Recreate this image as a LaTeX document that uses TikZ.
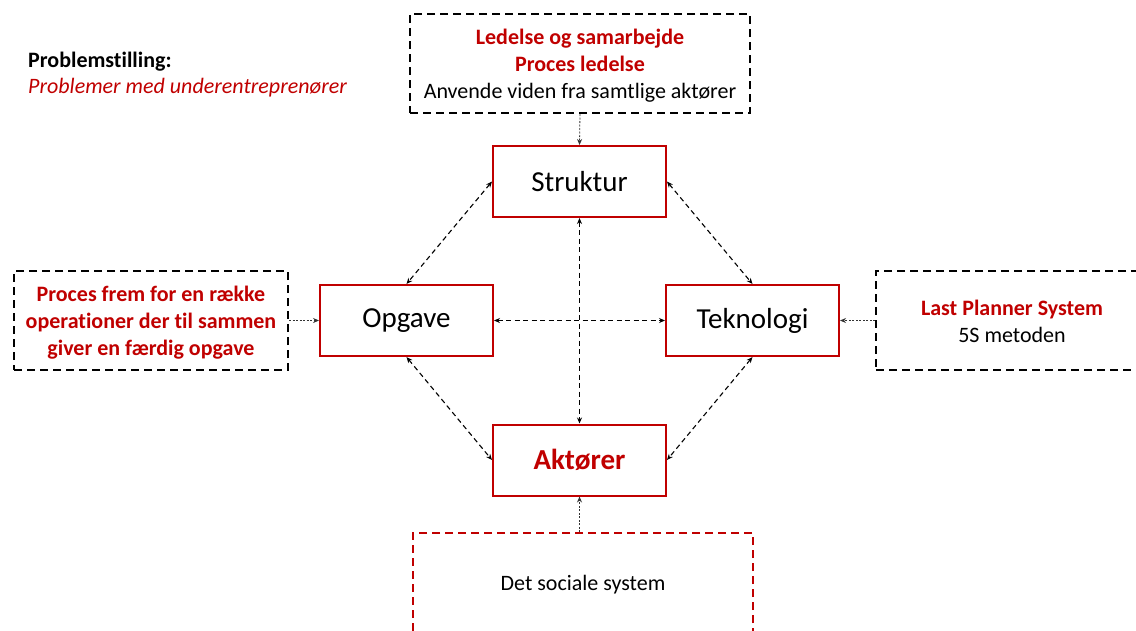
\documentclass[tikz,border=0pt]{standalone}
\usepackage{fontspec}
\setmainfont{Carlito}[Ligatures=NoCommon]
\usetikzlibrary{arrows.meta}
\definecolor{dkred}{HTML}{C00000}
\begin{document}
\begin{tikzpicture}[x=1pt,y=-1pt,
  core/.style={draw=dkred,line width=2pt,minimum width=173pt,minimum height=71pt,font=\fontsize{29}{34}\selectfont,inner sep=0pt},
  infobox/.style={draw=black,line width=2pt,dash pattern=on 8pt off 5pt,inner sep=0pt,align=center,font=\fontsize{22}{27}\selectfont},
  link/.style={line width=1.1pt,dash pattern=on 5pt off 3.5pt,{Stealth[length=6pt,width=5pt]}-{Stealth[length=6pt,width=5pt]}},
  feed/.style={line width=0.8pt,dash pattern=on 2pt off 1.5pt,draw=black!80,-{Stealth[length=6pt,width=5pt]}}]
\useasboundingbox (0,0) rectangle (1136,630);
\clip (0,0) rectangle (1136,630);

% problem statement
\node[anchor=base west,inner sep=0pt,font=\fontsize{22}{27}\selectfont\bfseries] (ps) at (28,67) {Problemstilling:};
\node[anchor=base west,inner sep=0pt,font=\fontsize{22}{27}\selectfont\itshape,text=dkred] (psr) at (28,93) {Problemer med underentreprenører};

% the four core elements
\node[core] (str) at (579.5,181.5) {Struktur};
\node[core] (opg) at (406.5,320.5) {Opgave};
\node[core] (tek) at (752.5,320.5) {Teknologi};
\node[core,text=dkred,font=\fontsize{29}{34}\selectfont\bfseries] (akt) at (579.5,460) {Aktører};

% surrounding explanation boxes
\node[infobox,minimum width=340pt,minimum height=99pt] (top) at (580,63.5) {};
\node[align=center,inner sep=0pt,font=\fontsize{22}{27}\selectfont] (toptxt) at (580,66)
  {{\color{dkred}\bfseries Ledelse og samarbejde}\\{\color{dkred}\bfseries Proces ledelse}\\Anvende viden fra samtlige aktører};
\node[infobox,minimum width=274pt,minimum height=99pt] (lft) at (151,320.5) {};
\node[align=center,inner sep=0pt,font=\fontsize{22}{27}\selectfont\bfseries,text=dkred] (lfttxt) at (151,323)
  {Proces frem for en række\\operationer der til sammen\\giver en færdig opgave};
\node[infobox,minimum width=290pt,minimum height=99pt] (rgt) at (1021,320.5) {};
\node[infobox,draw=dkred,minimum width=340pt,minimum height=140pt] (bot) at (583,603) {};
\node[align=center,inner sep=0pt,font=\fontsize{22}{27}\selectfont] (rgtxt) at (1012,321.5)
  {{\color{dkred}\bfseries Last Planner System}\\5S metoden};
\node[inner sep=0pt,font=\fontsize{22}{27}\selectfont,anchor=base] (bottxt) at (583,590) {Det sociale system};

% relations between the core elements
\draw[link] (str.south) -- (akt.north);
\draw[link] (opg.east) -- (tek.west);
\draw[link] (str.west) -- (opg.north);
\draw[link] (str.east) -- (tek.north);
\draw[link] (opg.south) -- (akt.west);
\draw[link] (tek.south) -- (akt.east);

% influences from the explanation boxes
\draw[feed] (top.south) -- (str.north);
\draw[feed] (lft.east) -- (opg.west);
\draw[feed] (rgt.west) -- (tek.east);
\draw[feed] (bot.north -| akt.south) -- (akt.south);
\end{tikzpicture}
\end{document}
